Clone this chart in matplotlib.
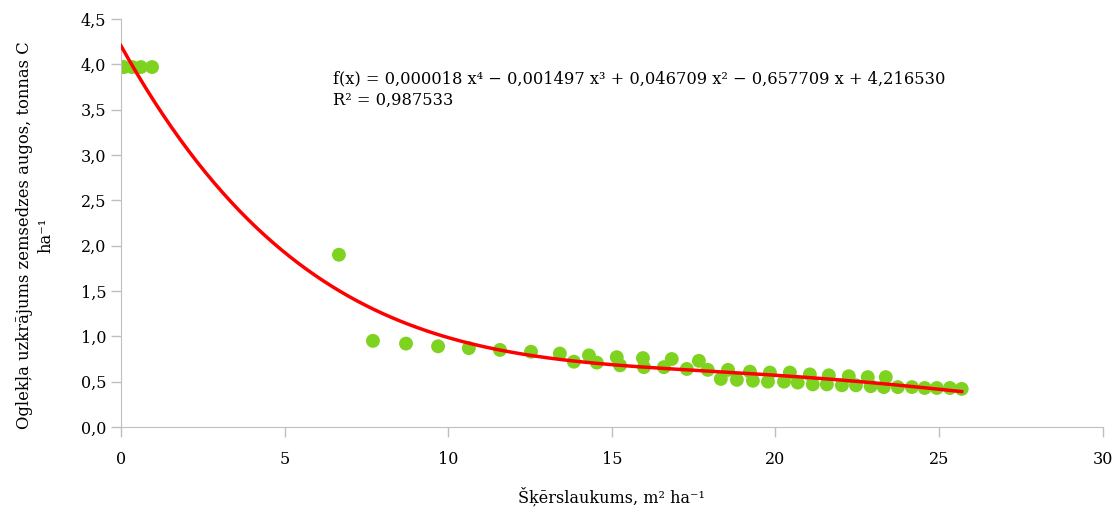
import numpy as np
import matplotlib
matplotlib.use('Agg')
import matplotlib.pyplot as plt

plt.rcParams['font.family'] = ['DejaVu Serif']

# skerslaukums (m2/ha) un oglekla uzkrajums (t C/ha)
sk = [0.03, 0.09, 0.34, 0.61, 0.95,
      6.66, 7.70, 8.71, 9.69, 10.63, 11.58, 12.53, 13.41, 13.84, 14.30,
      14.54, 15.15, 15.25, 15.95, 15.98, 16.59, 16.83, 17.29, 17.66, 17.93,
      18.33, 18.55, 18.82, 19.22, 19.31, 19.83, 19.77, 20.44, 20.26, 20.68,
      21.05, 21.14, 21.63, 21.57, 22.03, 22.24, 22.46, 22.82, 22.91, 23.37,
      23.31, 23.74, 24.17, 24.56, 24.93, 25.33, 25.69]
ogl = [3.97, 3.97, 3.97, 3.97, 3.97,
       1.90, 0.95, 0.92, 0.89, 0.87, 0.85, 0.83, 0.81, 0.72, 0.79,
       0.71, 0.77, 0.68, 0.76, 0.66, 0.66, 0.75, 0.64, 0.73, 0.63,
       0.53, 0.63, 0.52, 0.61, 0.51, 0.60, 0.50, 0.60, 0.50, 0.49,
       0.58, 0.47, 0.57, 0.47, 0.46, 0.56, 0.46, 0.55, 0.45, 0.55,
       0.44, 0.44, 0.44, 0.43, 0.43, 0.43, 0.42]

formula_txt = 'f(x) = 0,000018 x⁴ − 0,001497 x³ + 0,046709 x² − 0,657709 x + 4,216530'
r2_txt = 'R² = 0,987533'

fig = plt.figure(figsize=(11.15, 5.11), dpi=100)
ax = fig.add_axes([0.1085, 0.1644, 0.8805, 0.7984])

ax.scatter(sk, ogl, s=100, color='#7ED321', edgecolors='none', zorder=2)

# polinoma trenda linija
koef = np.polyfit(sk, ogl, 4)
xx = np.linspace(0, max(sk), 300)
ax.plot(xx, np.polyval(koef, xx), color='#FF0000', lw=2.5, zorder=3)

ax.text(6.48, 3.84, formula_txt, fontsize=11.7, va='center', ha='left')
ax.text(6.48, 3.60, r2_txt, fontsize=11.7, va='center', ha='left')

ax.set_xlim(0, 30)
ax.set_ylim(0, 4.5)
ax.set_xticks(np.arange(0, 31, 5))
ax.set_yticks(np.arange(0, 4.51, 0.5))
ax.set_yticklabels(['{:.1f}'.format(v).replace('.', ',') for v in np.arange(0, 4.51, 0.5)])
for s in ['top', 'right']:
    ax.spines[s].set_visible(False)
for s in ['left', 'bottom']:
    ax.spines[s].set_color('#BFBFBF')
ax.tick_params(colors='#BFBFBF', labelcolor='black', labelsize=11.5, length=7, width=1)
ax.tick_params(axis='x', pad=10)

ax.set_xlabel('Šķērslaukums, m² ha⁻¹', fontsize=11.5, labelpad=14)
ax.set_ylabel('Oglekļa uzkrājums zemsedzes augos, tonnas C\nha⁻¹', fontsize=11.8,
              linespacing=1.35)
ax.yaxis.set_label_coords(-0.068, 0.47)

fig.savefig('out.png', dpi=100)
